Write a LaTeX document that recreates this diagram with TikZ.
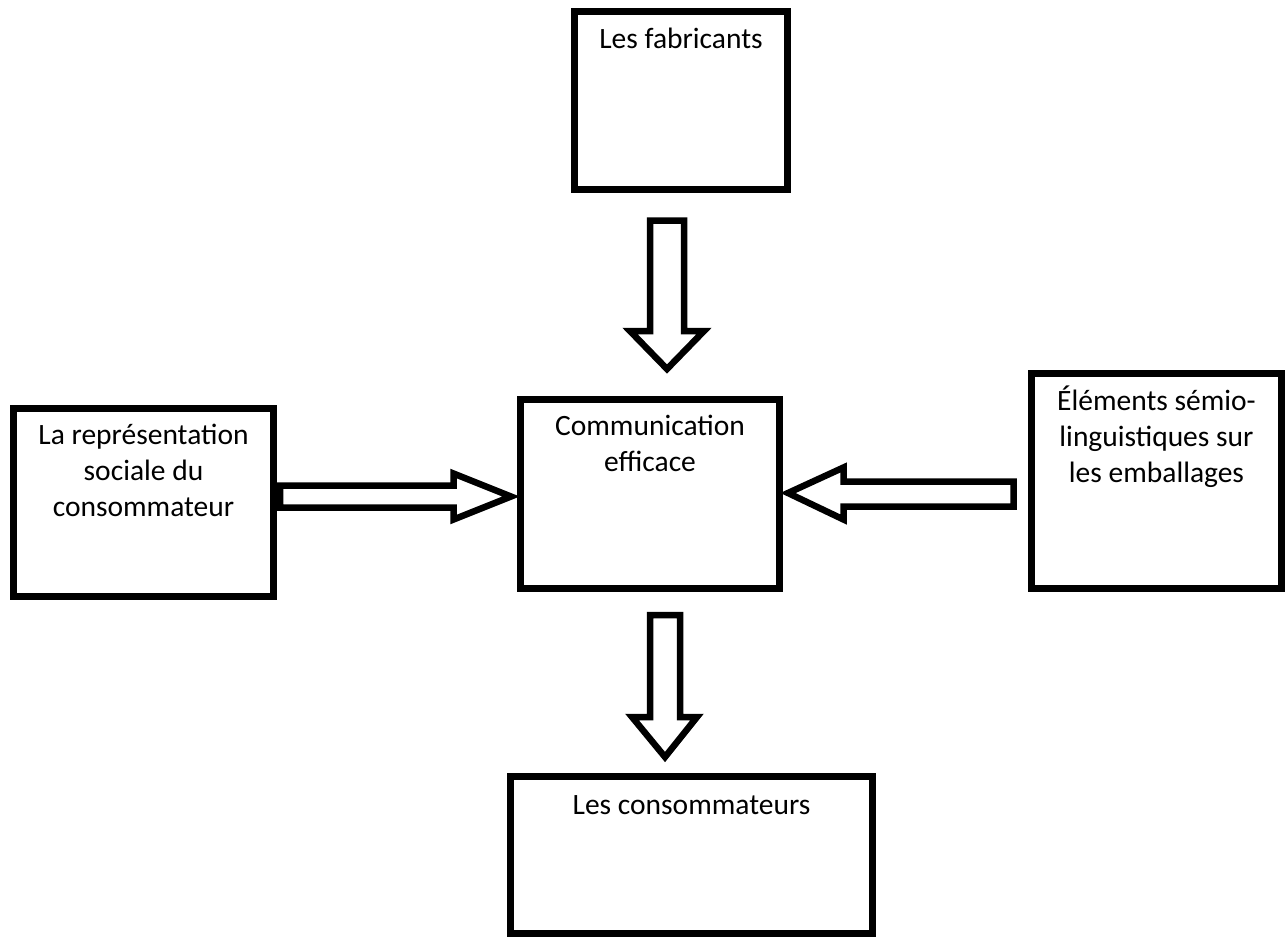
\documentclass[tikz,border=0pt]{standalone}
\usepackage{fontspec}
\setmainfont{Carlito}
% invisible rule fixing the height of a label's first line
\newcommand\firstln{\rule{0pt}{26pt}}
\begin{document}
\begin{tikzpicture}[x=1pt, y=-1pt,
  box/.style={draw=black, line width=7pt, fill=white, inner sep=0pt},
  lbl/.style={font=\fontsize{29.5}{36}\selectfont, align=center, anchor=north, inner sep=0pt},
  bigarrow/.style={draw=black, line width=6.5pt, fill=white, line join=miter}]
\useasboundingbox (0,0) rectangle (1286,938);

% boxes (centre, size measured on the stroke's centre line)
\node[box, minimum width=213pt, minimum height=178pt] (fab)  at (681,100.5) {};
\node[box, minimum width=259pt, minimum height=189pt] (comm) at (650,494) {};
\node[box, minimum width=260pt, minimum height=188pt] (rep)  at (143.5,502.5) {};
\node[box, minimum width=250pt, minimum height=215pt] (sem)  at (1156.5,481) {};
\node[box, minimum width=362pt, minimum height=157pt] (cons) at (691.5,855) {};

% texts, set against the top of each box
\node[lbl] (fabT)  at ([yshift=-14.5pt]fab.north)  {\firstln Les fabricants};
\node[lbl] (commT) at ([yshift=-13.5pt]comm.north) {\firstln Communication\\efficace};
\node[lbl] (repT)  at ([yshift=-13.5pt]rep.north)  {\firstln La représentation\\sociale du\\consommateur};
\node[lbl] (semT)  at ([yshift=-14.5pt]sem.north)  {\firstln Éléments sémio-\\linguistiques sur\\les emballages};
\node[lbl] (consT) at ([yshift=-15pt]cons.north)   {\firstln Les consommateurs};

% block arrows
% fabricants -> communication
\draw[bigarrow] (650,220.5) -- (684,220.5) -- (684,331) -- (704,331)
  -- (667,369) -- (630,331) -- (650,331) -- cycle;

% representation -> communication
\draw[bigarrow] (280,485.5) -- (453.5,485.5) -- (453.5,473.5) -- (511,496.5)
  -- (453.5,519.5) -- (453.5,507.5) -- (280,507.5) -- cycle;

% elements -> communication
\draw[bigarrow] (1013.5,481.5) -- (843.5,481.5) -- (843.5,467.5) -- (788,493)
  -- (843.5,519.5) -- (843.5,506.5) -- (1013.5,506.5) -- cycle;

% communication -> consommateurs
\draw[bigarrow] (650,615) -- (680,615) -- (680,717) -- (697,717)
  -- (665,757) -- (632,717) -- (650,717) -- cycle;
\end{tikzpicture}
\end{document}
